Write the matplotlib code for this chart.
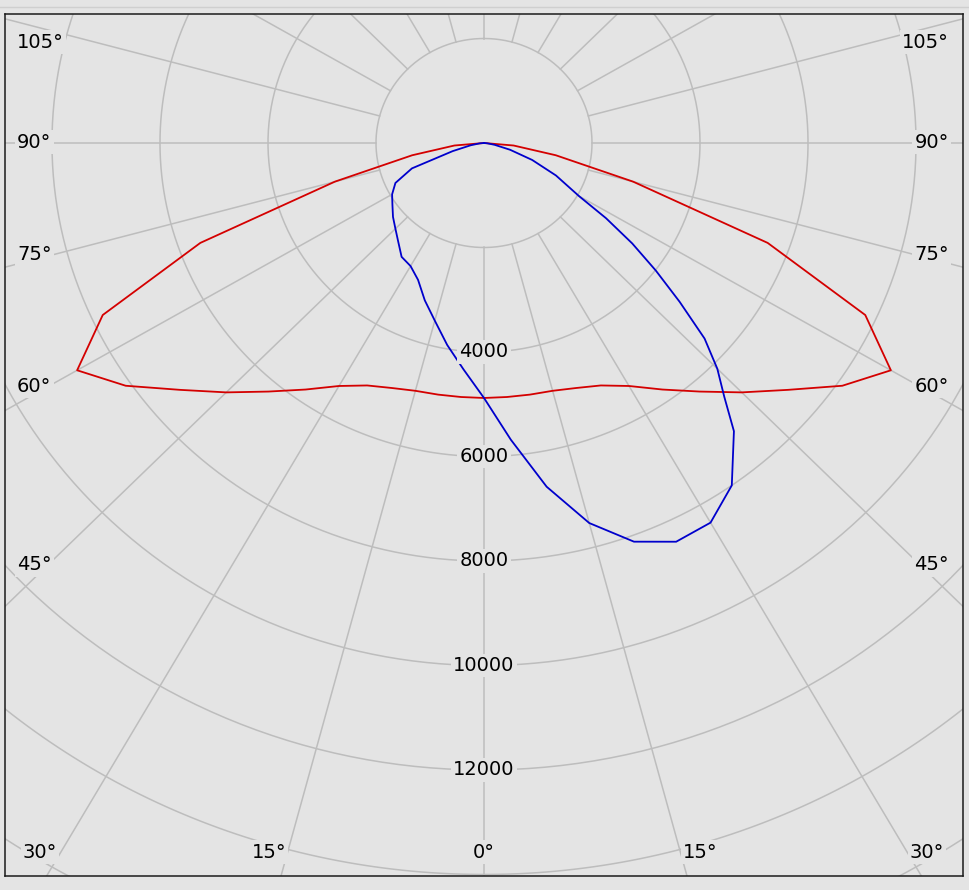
import numpy as np
import matplotlib.pyplot as plt
from matplotlib.lines import Line2D

# luminous intensity (cd) against gamma angle
# red plane is symmetric, so only one half is kept
red_gamma = [0, 5, 10, 15, 20, 25, 30, 35, 40, 45, 50, 55, 60, 65, 70, 75, 80, 85, 90]
red_cd = [4880, 4880, 4890, 4910, 4990, 5120, 5370, 5760, 6210, 6750,
          7350, 8100, 8700, 7790, 5590, 2860, 1350, 550, 0]

# blue plane, negative angles on the left side
blue_gamma = [-90, -85, -80, -75, -70, -65, -60, -55, -50, -45, -40, -35, -30, -25,
              -20, -15, -10, -5, 0, 5, 10, 15, 20, 25, 30, 35, 40, 42.5, 45, 47.5,
              50, 52.5, 55, 57.5, 60, 65, 70, 75, 80, 85, 90]
blue_cd = [0, 80, 250, 600, 1420, 1810, 1965, 2070, 2200, 2320, 2470, 2660, 2720, 2890,
           3205, 3520, 3925, 4350, 4880, 5700, 6680, 7530, 8120, 8420, 8390, 8000, 7200, 6585,
           6110, 5540, 4730, 4010, 3350, 2680, 2030, 1470, 950, 500, 200, 60, 0]

ring_labels = [4000, 6000, 8000, 10000, 12000]
side_angles = [105, 90, 75, 60, 45]
bottom_angles = [30, 15, 0, 15, 30]

BG = '#e4e4e4'
GRID = '#bdbdbd'
W, H = 969, 890

fig = plt.figure(figsize=(W / 100, H / 100), dpi=100, facecolor=BG)
# plot frame in pixels: x 5..963, y 14..876
ax = fig.add_axes([5 / W, (H - 876) / H, 958 / W, 862 / H])
ax.set_facecolor(BG)
ax.set_xlim(-8870, 8870)
ax.set_ylim(-14029, 2469)
ax.set_xticks([])
ax.set_yticks([])
for sp in ax.spines.values():
    sp.set_color('#1a1a1a')
    sp.set_linewidth(1.1)

# rings every 2000 cd
t = np.linspace(0, 2 * np.pi, 500)
for r in range(2000, 22001, 2000):
    ax.plot(r * np.sin(t), r * np.cos(t), color=GRID, lw=1.1, zorder=1)

# spokes every 15 deg, starting at the first ring
for a in range(0, 360, 15):
    a = np.radians(a)
    ax.plot([2000 * np.sin(a), 22000 * np.sin(a)], [2000 * np.cos(a), 22000 * np.cos(a)],
            color=GRID, lw=1.1, zorder=1)


def to_xy(gamma, cd):
    g = np.radians(np.asarray(gamma, dtype=float))
    cd = np.asarray(cd, dtype=float)
    return cd * np.sin(g), -cd * np.cos(g)


red_full_g = [-g for g in red_gamma[::-1]] + red_gamma[1:]
red_full_cd = red_cd[::-1] + red_cd[1:]
x, y = to_xy(red_full_g, red_full_cd)
ax.plot(x, y, color='#d40000', lw=1.3, zorder=3)

x, y = to_xy(blue_gamma, blue_cd)
ax.plot(x, y, color='#0000cc', lw=1.3, zorder=3)

box = dict(facecolor=BG, edgecolor='none', pad=1.5)
for r in ring_labels:
    ax.text(0, -r, str(r), ha='center', va='center', fontsize=14,
            bbox=box, zorder=5)

# angle labels sit just inside the frame (pixel positions)
side_y = [42, 142, 254, 386, 565]
bottom_x = [40, 269, 484, 700, 927]


def px(xp, yp):
    return (xp - 5) / 958, 1 - (yp - 14) / 862


for a, yp in zip(side_angles, side_y):
    ax.text(*px(17, yp), f'{a}°', ha='left', va='center', fontsize=14,
            transform=ax.transAxes, bbox=box, zorder=5)
    ax.text(*px(949, yp), f'{a}°', ha='right', va='center', fontsize=14,
            transform=ax.transAxes, bbox=box, zorder=5)
for a, xp in zip(bottom_angles, bottom_x):
    ax.text(*px(xp, 852), f'{a}°', ha='center', va='center', fontsize=14,
            transform=ax.transAxes, bbox=box, zorder=5)

# faint window line above the chart
fig.add_artist(Line2D([0, 1], [1 - 7 / H, 1 - 7 / H], color='#cfcfcf', lw=1,
                      transform=fig.transFigure))

fig.savefig('out.png', dpi=100, facecolor=BG)
